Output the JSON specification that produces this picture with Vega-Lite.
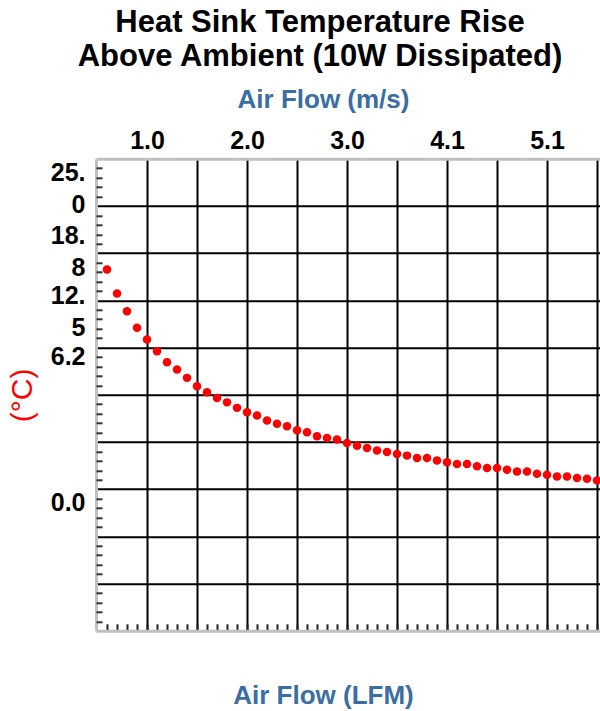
{
  "$schema": "https://vega.github.io/schema/vega-lite/v6.json",
  "width": 504,
  "height": 472,
  "autosize": {"type": "none"},
  "padding": {"left": 96, "top": 158.8, "right": 0, "bottom": 80.2},
  "background": "white",
  "config": {"font": "Liberation Sans", "view": {"stroke": null}},
  "title": {
    "text": ["Heat Sink Temperature Rise", "Above Ambient (10W Dissipated)"],
    "fontSize": 31,
    "fontWeight": "bold",
    "color": "#000000",
    "lineHeight": 34,
    "anchor": "middle",
    "frame": "group",
    "dx": -28,
    "offset": 13
  },
  "data": {
    "values": [
      {"lfm": 120, "temp": 16.96}, {"lfm": 140, "temp": 15.21}, {"lfm": 160, "temp": 13.93},
      {"lfm": 180, "temp": 12.72}, {"lfm": 200, "temp": 11.87}, {"lfm": 220, "temp": 11.02},
      {"lfm": 240, "temp": 10.21}, {"lfm": 260, "temp": 9.68}, {"lfm": 280, "temp": 9.08},
      {"lfm": 300, "temp": 8.47}, {"lfm": 320, "temp": 8.03}, {"lfm": 340, "temp": 7.62},
      {"lfm": 360, "temp": 7.30}, {"lfm": 380, "temp": 6.90}, {"lfm": 400, "temp": 6.58},
      {"lfm": 420, "temp": 6.34}, {"lfm": 440, "temp": 5.99}, {"lfm": 460, "temp": 5.75},
      {"lfm": 480, "temp": 5.56}, {"lfm": 500, "temp": 5.27}, {"lfm": 520, "temp": 5.12},
      {"lfm": 540, "temp": 4.83}, {"lfm": 560, "temp": 4.71}, {"lfm": 580, "temp": 4.60},
      {"lfm": 600, "temp": 4.35}, {"lfm": 620, "temp": 4.15}, {"lfm": 640, "temp": 3.99},
      {"lfm": 660, "temp": 3.81}, {"lfm": 680, "temp": 3.70}, {"lfm": 700, "temp": 3.55},
      {"lfm": 720, "temp": 3.43}, {"lfm": 740, "temp": 3.26}, {"lfm": 760, "temp": 3.26},
      {"lfm": 780, "temp": 3.08}, {"lfm": 800, "temp": 2.94}, {"lfm": 820, "temp": 2.82},
      {"lfm": 840, "temp": 2.82}, {"lfm": 860, "temp": 2.65}, {"lfm": 880, "temp": 2.53},
      {"lfm": 900, "temp": 2.53}, {"lfm": 920, "temp": 2.41}, {"lfm": 940, "temp": 2.28},
      {"lfm": 960, "temp": 2.28}, {"lfm": 980, "temp": 2.12}, {"lfm": 1000, "temp": 2.04},
      {"lfm": 1020, "temp": 1.92}, {"lfm": 1040, "temp": 1.92}, {"lfm": 1060, "temp": 1.80},
      {"lfm": 1080, "temp": 1.75}, {"lfm": 1100, "temp": 1.63}
    ]
  },
  "layer": [
    {
      "mark": {"type": "circle", "size": 72, "color": "#ff0000", "opacity": 1},
      "encoding": {
        "x": {
          "field": "lfm", "type": "quantitative",
          "scale": {"domain": [98, 1106], "nice": false, "zero": false},
          "axis": {
            "orient": "bottom",
            "values": [120,140,160,180,200,220,240,260,280,300,320,340,360,380,400,420,440,460,480,500,520,540,560,580,600,620,640,660,680,700,720,740,760,780,800,820,840,860,880,900,920,940,960,980,1000,1020,1040,1060,1080,1100],
            "grid": false, "labels": false,
            "ticks": true, "tickSize": -7, "tickWidth": 2, "tickColor": "#222222",
            "domain": true, "domainColor": "#c0c0c0", "domainWidth": 3,
            "title": "Air Flow (LFM)", "titleColor": "#3a6ea5", "titleFontSize": 26, "titleFontWeight": "bold",
            "titleX": 227, "titleY": 72.5, "titleAlign": "center", "titleBaseline": "alphabetic"
          }
        },
        "y": {
          "field": "temp", "type": "quantitative",
          "scale": {"domain": [-9.3, 25], "nice": false, "zero": false},
          "axis": {
            "orient": "left",
            "values": [-5.87, -2.44, 0.99, 4.42, 7.85, 11.28, 14.71, 18.14, 21.57],
            "grid": true, "gridColor": "#000000", "gridWidth": 2, "gridOpacity": 1,
            "ticks": false, "labels": false,
            "domain": true, "domainColor": "#c0c0c0", "domainWidth": 3,
            "title": null
          }
        }
      }
    },
    {
      "mark": {"type": "circle", "opacity": 0},
      "encoding": {
        "x": {
          "field": "lfm", "type": "quantitative",
          "scale": {"domain": [98, 1106], "nice": false, "zero": false},
          "axis": {
            "orient": "top",
            "values": [200,300,400,500,600,700,800,900,1000,1100],
            "grid": true, "gridColor": "#000000", "gridWidth": 2, "gridOpacity": 1,
            "ticks": false,
            "labelExpr": "datum.value % 200 == 0 && datum.value <= 1000 ? format(datum.value * 0.00508, '.1f') : ''",
            "labelFontSize": 25, "labelFontWeight": "bold", "labelColor": "#000000",
            "labelPadding": 10.5, "labelBaseline": "alphabetic", "labelFlush": false, "labelOverlap": false,
            "domain": true, "domainColor": "#c0c0c0", "domainWidth": 3,
            "title": "Air Flow (m/s)", "titleColor": "#3a6ea5", "titleFontSize": 26, "titleFontWeight": "bold",
            "titleX": 227, "titleY": -51.5, "titleAlign": "center", "titleBaseline": "alphabetic"
          }
        },
        "y": {
          "field": "temp", "type": "quantitative",
          "scale": {"domain": [-9.3, 25], "nice": false, "zero": false},
          "axis": {
            "orient": "left",
            "values": [-8.614,-7.928,-7.242,-6.556,-5.184,-4.498,-3.812,-3.126,-1.754,-1.068,-0.382,0.304,1.676,2.362,3.048,3.734,5.106,5.792,6.478,7.164,8.536,9.222,9.908,10.594,11.966,12.652,13.338,14.024,15.396,16.082,16.768,17.454,18.826,19.512,20.198,20.884,22.256,22.942,23.628,24.314],
            "grid": false, "labels": false, "domain": false,
            "ticks": true, "tickSize": -6, "tickWidth": 2, "tickColor": "#333333",
            "title": null
          }
        }
      }
    },
    {
      "mark": {"type": "circle", "opacity": 0},
      "encoding": {
        "x": {
          "field": "lfm", "type": "quantitative",
          "scale": {"domain": [98, 1106], "nice": false, "zero": false},
          "axis": null
        },
        "y": {
          "field": "temp", "type": "quantitative",
          "scale": {"domain": [-9.3, 25], "nice": false, "zero": false},
          "axis": {
            "orient": "left",
            "values": [23.97, 19.46, 15.03, 10.6, 0],
            "grid": false, "ticks": false, "domain": false,
            "labelExpr": "datum.value > 20 ? ['25.', '0'] : datum.value > 16 ? ['18.', '8'] : datum.value > 12 ? ['12.', '5'] : datum.value > 5 ? '6.2' : '0.0'",
            "labelFontSize": 25, "labelFontWeight": "bold", "labelColor": "#000000",
            "labelPadding": 11, "labelLineHeight": 32, "labelAlign": "right", "labelBaseline": "middle",
            "labelOverlap": false, "labelFlush": false, "labelBound": false,
            "title": "(°C)", "titleColor": "#ff0000", "titleFontSize": 30, "titleFontWeight": "normal",
            "titleAngle": -90, "titleX": -74, "titleY": 236, "titleAlign": "center", "titleBaseline": "middle"
          }
        }
      }
    }
  ],
  "resolve": {"axis": {"x": "independent", "y": "independent"}}
}
